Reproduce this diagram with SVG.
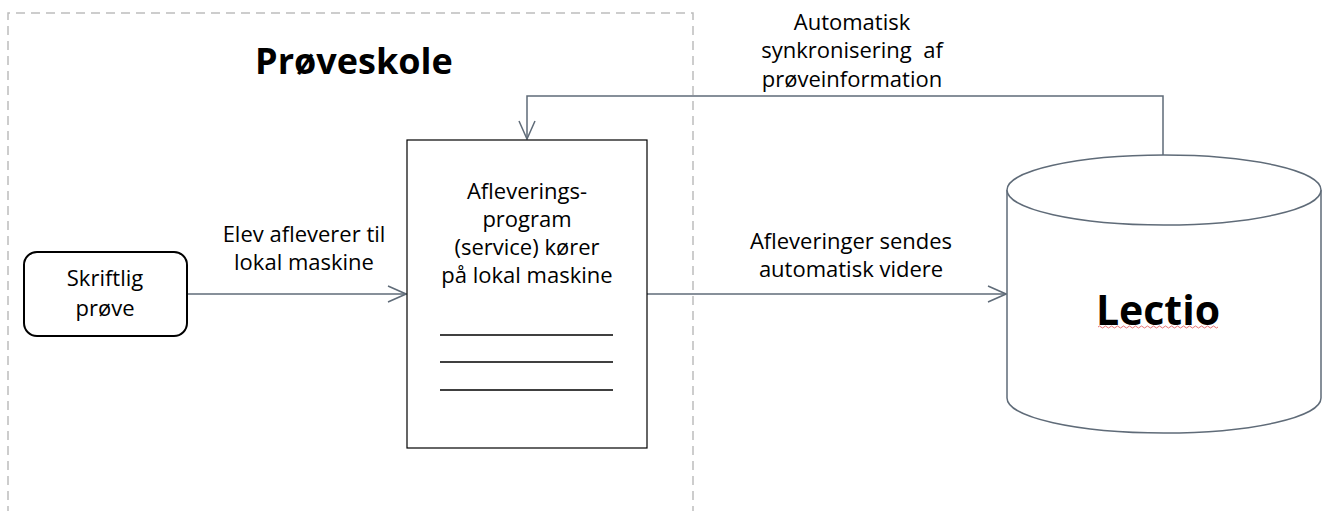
<svg xmlns="http://www.w3.org/2000/svg" width="1327" height="511" viewBox="0 0 1327 511">
<style>
text{font-family:"Open Sans","Noto Sans","Liberation Sans",sans-serif;fill:#000;text-anchor:middle}
.lbl{font-size:22px}
.conn{fill:none;stroke:#5f6b78;stroke-width:1.5}
</style>
<defs>
<marker id="arr" viewBox="0 0 20 20" refX="19" refY="10" markerWidth="20" markerHeight="20" markerUnits="userSpaceOnUse" orient="auto">
<path d="M1,2 L19,10 L1,18" fill="none" stroke="#5f6b78" stroke-width="1.5"/>
</marker>
</defs>
<rect width="1327" height="511" fill="#fff"/>
<g id="school">
<path d="M8,530 L8,13 L693,13 L693,530" fill="none" stroke="#bdbdbd" stroke-width="1.5" stroke-dasharray="9,6"/>
<text x="354" y="74" style="font-size:36px;font-weight:bold">Prøveskole</text>
</g>
<g id="connectors">
<line class="conn" x1="187" y1="294" x2="406" y2="294" marker-end="url(#arr)"/>
<line class="conn" x1="647" y1="294" x2="1006" y2="294" marker-end="url(#arr)"/>
<path class="conn" d="M1163,155 L1163,96 L527,96 L527,139" marker-end="url(#arr)"/>
<text class="lbl" x="304" y="242">Elev afleverer til</text>
<text class="lbl" x="304" y="270">lokal maskine</text>
<text class="lbl" x="851" y="249">Afleveringer sendes</text>
<text class="lbl" x="851" y="277">automatisk videre</text>
<text class="lbl" x="852" y="30">Automatisk</text>
<text class="lbl" x="852" y="58" xml:space="preserve">synkronisering  af</text>
<text class="lbl" x="852" y="87">prøveinformation</text>
</g>
<g id="skriftlig">
<rect x="24" y="252" width="163" height="84" rx="13" fill="#fff" stroke="#000" stroke-width="2"/>
<text class="lbl" x="105" y="286">Skriftlig</text>
<text class="lbl" x="105" y="316">prøve</text>
</g>
<g id="program">
<rect x="407" y="140" width="240" height="308" fill="#fff" stroke="#000" stroke-width="1.2"/>
<text class="lbl" x="527" y="199">Afleverings-</text>
<text class="lbl" x="527" y="227">program</text>
<text class="lbl" x="527" y="255">(service) kører</text>
<text class="lbl" x="527" y="283">på lokal maskine</text>
<g stroke="#000" stroke-width="1.5">
<line x1="440" y1="335" x2="613" y2="335"/>
<line x1="440" y1="362" x2="613" y2="362"/>
<line x1="440" y1="390" x2="613" y2="390"/>
</g>
</g>
<g id="lectio">
<path d="M1007,190 L1007,398 A157,35 0 0 0 1321,398 L1321,190" fill="#fff" stroke="#5f6b78" stroke-width="1.5"/>
<ellipse cx="1164" cy="190" rx="157" ry="35" fill="#fff" stroke="#5f6b78" stroke-width="1.5"/>
<text x="1158" y="325" style="font-size:41px;font-weight:bold">Lectio</text>
<path d="M1098,327 q1.5,-2 3,0 t3,0 t3,0 t3,0 t3,0 t3,0 t3,0 t3,0 t3,0 t3,0 t3,0 t3,0 t3,0 t3,0 t3,0 t3,0 t3,0 t3,0 t3,0 t3,0 t3,0 t3,0 t3,0 t3,0 t3,0 t3,0 t3,0 t3,0 t3,0 t3,0 t3,0 t3,0 t3,0 t3,0 t3,0 t3,0 t3,0 t3,0 t3,0 t3,0" fill="none" stroke="#e05050" stroke-width="0.8"/>
</g>
</svg>
